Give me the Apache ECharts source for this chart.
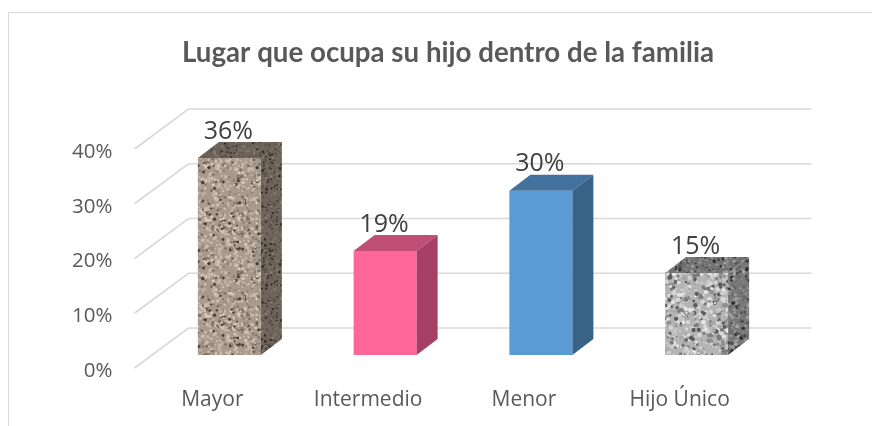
<!DOCTYPE html>
<html>
<head>
<meta charset="utf-8">
<style>html,body{margin:0;padding:0;background:#fff}#c{width:872px;height:426px}</style>
<script src="https://cdn.jsdelivr.net/npm/echarts@6/dist/echarts.min.js"></script>
</head>
<body>
<div id="c"></div>
<script>
var categories = ['Mayor', 'Intermedio', 'Menor', 'Hijo Único'];
var values = [36, 19, 30, 15];
var yTicks = [0, 10, 20, 30, 40];
var titleText = 'Lugar que ocupa su hijo dentro de la familia';

var FONT = 'Open Sans';
var LIFT = 3;              // marks sit this far above the axis label baseline
var BACK = [54, -40];      // wall depth of the 3D box
var PLANE = [17, -13];     // bars sit this far behind the axis plane
var DEPTH = [21, -16];     // bar depth
var BAR_W = 63;

// Seeded speckle texture, purely decorative
function speckle(size, base, cols, count, rMax, seed, blur) {
  var src = document.createElement('canvas');
  src.width = src.height = size;
  var g = src.getContext('2d');
  g.fillStyle = base;
  g.fillRect(0, 0, size, size);
  var s = seed;
  function r() { s = (s * 16807) % 2147483647; return s / 2147483647; }
  for (var i = 0; i < count; i++) {
    g.fillStyle = cols[Math.floor(r() * cols.length)];
    var x = r() * size, y = r() * size, a = 0.6 + r() * rMax;
    for (var dx = -size; dx <= size; dx += size) {
      for (var dy = -size; dy <= size; dy += size) {
        g.beginPath();
        g.arc(x + dx, y + dy, a, 0, 7);
        g.fill();
      }
    }
  }
  var c = document.createElement('canvas');
  c.width = c.height = size;
  var h = c.getContext('2d');
  h.filter = 'blur(' + blur + 'px)';
  for (var ox = -size; ox <= size; ox += size) {
    for (var oy = -size; oy <= size; oy += size) {
      h.drawImage(src, ox, oy);
    }
  }
  return { image: c, repeat: 'repeat' };
}
var stone = ['#cfc3b5', '#c6b9ab', '#d8ccbe', '#a3958a', '#8f8276', '#7c7065', '#c0b2a4', '#cbbfb1', '#4a4038'];
var stoneD = ['#7e7369', '#6e6359', '#5e544b', '#8a7e73', '#4a413a', '#2f2924'];
var granite = ['#dcdcdc', '#cfcfcf', '#c4c4c4', '#e6e6e6', '#8e8e8e', '#7a7a7a', '#a8a8a8', '#d6d6d6', '#5a5a5a'];
var graniteD = ['#9a9a9a', '#868686', '#6a6a6a', '#4c4c4c', '#2e2e2e', '#a6a6a6'];

var fills = [
  { f: speckle(96, '#a89a8d', stone, 1200, 1.2, 1234, 0.6), t: speckle(96, '#6d6258', stoneD, 1300, 0.7, 77, 0.5), s: speckle(96, '#6f645a', stoneD, 1300, 0.7, 991, 0.5) },
  { f: '#ff6699', t: '#be4e74', s: '#a53f63' },
  { f: '#5b9bd5', t: '#44729e', s: '#396287' },
  { f: speckle(96, '#b4b4b4', granite, 850, 1.9, 4321, 0.7), t: speckle(96, '#737373', graniteD, 1000, 1.1, 555, 0.6), s: speckle(96, '#787878', graniteD, 900, 1.4, 2468, 0.6) }
];

function poly(pts, fill) {
  return { type: 'polygon', shape: { points: pts }, style: { fill: fill, stroke: null } };
}

var chart = echarts.init(document.getElementById('c'), null, { renderer: 'canvas' });
chart.setOption({
  animation: false,
  backgroundColor: '#fff',
  title: {
    text: titleText,
    left: 443, top: 34, textAlign: 'center',
    textStyle: { fontFamily: 'Lato', fontSize: 27.7, fontWeight: 'bold', color: '#595959' }
  },
  graphic: [{
    type: 'polyline', silent: true,
    shape: { points: [[8.5, 426], [8.5, 12.5], [872, 12.5]] },
    style: { stroke: '#d9d9d9', lineWidth: 1, fill: null }
  }],
  grid: { left: 134.5, top: 149 + LIFT, width: 623, height: 219, containLabel: false },
  xAxis: {
    type: 'category', data: categories,
    axisLine: { show: false }, axisTick: { show: false },
    axisLabel: { margin: 19, fontFamily: FONT, fontSize: 21, color: '#595959' }
  },
  yAxis: {
    type: 'value', min: 0, max: 40, interval: 10,
    axisLine: { show: false }, axisTick: { show: false }, splitLine: { show: false },
    axisLabel: { margin: 22, fontFamily: FONT, fontSize: 20.5, color: '#595959', formatter: '{value}%' }
  },
  series: [
    {
      type: 'custom', coordinateSystem: 'cartesian2d', z: 1, silent: true,
      encode: { y: 0 },
      data: yTicks.map(function (t) { return [t]; }),
      renderItem: function (params, api) {
        var y = api.coord([0, api.value(0)])[1] - LIFT;
        var x0 = params.coordSys.x, x1 = params.coordSys.x + params.coordSys.width;
        return {
          type: 'polyline',
          shape: { points: [[x0, y], [x0 + BACK[0], y + BACK[1]], [x1 + BACK[0], y + BACK[1]]] },
          style: { stroke: '#d9d9d9', lineWidth: 1.6, fill: null }
        };
      }
    },
    {
      type: 'custom', coordinateSystem: 'cartesian2d', z: 2, silent: true,
      encode: { x: 0, y: 1 },
      data: values.map(function (v, i) { return [i, v]; }),
      renderItem: function (params, api) {
        var i = api.value(0), v = api.value(1);
        var top = api.coord([i, v]), base = api.coord([i, 0]);
        var l = top[0] + PLANE[0] - BAR_W / 2, r = l + BAR_W;
        var ty = top[1] + PLANE[1] - LIFT, by = base[1] + PLANE[1] - LIFT;
        var dx = DEPTH[0], dy = DEPTH[1], F = fills[i];
        return {
          type: 'group',
          children: [
            poly([[l, by], [l, ty], [r, ty], [r, by]], F.f),
            poly([[l, ty], [l + dx, ty + dy], [r + dx, ty + dy], [r, ty]], F.t),
            poly([[r, by], [r, ty], [r + dx, ty + dy], [r + dx, by + dy]], F.s),
            {
              type: 'text',
              style: {
                x: top[0] + PLANE[0] - 1, y: ty - 14,
                text: v + '%', align: 'center', verticalAlign: 'bottom',
                fontFamily: FONT, fontSize: 25, fill: '#404040'
              }
            }
          ]
        };
      }
    }
  ]
});
</script>
</body>
</html>
